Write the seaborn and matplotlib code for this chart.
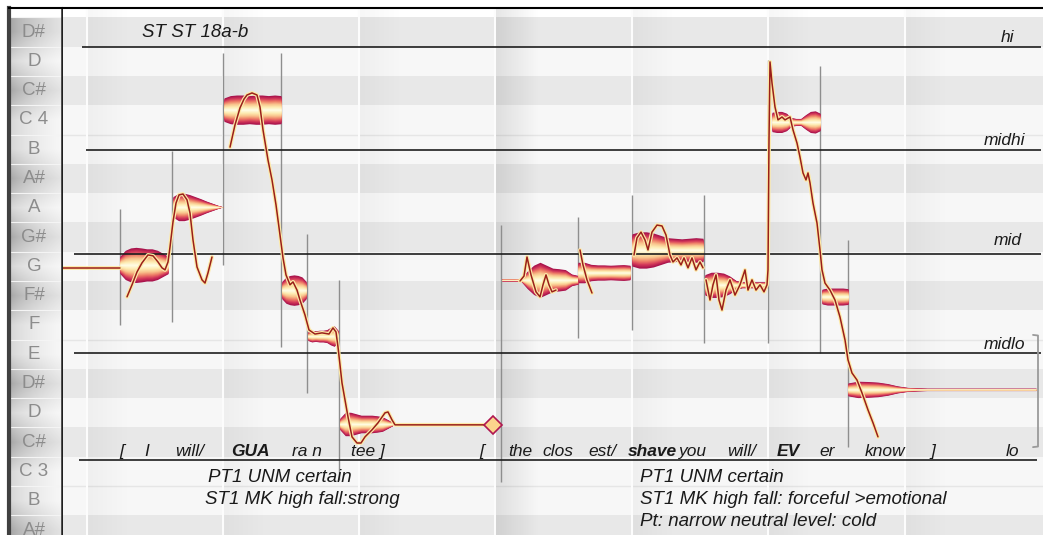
import numpy as np
import seaborn as sns
import matplotlib.pyplot as plt
from matplotlib.colors import LinearSegmentedColormap

# piano-roll rows (MIDI pitch) and key names
key_pitches = list(range(46, 64))
key_names = ['A#', 'B', 'C 3', 'C#', 'D', 'D#', 'E', 'F', 'F#', 'G',
             'G#', 'A', 'A#', 'B', 'C 4', 'C#', 'D', 'D#']
black_keys = {'A#', 'C#', 'D#', 'F#', 'G#'}

# time in centiseconds
bar_starts = [24, 160, 296, 432, 569, 705, 842]

# reference pitch levels
ref_names = ['hi', 'midhi', 'mid', 'midlo']
ref_levels = [62.49, 58.97, 55.42, 52.04]
ref_starts = [19, 23, 11, 11]
ref_label_t = [951, 962, 959, 962]
ref_label_p = [62.83, 59.31, 55.90, 52.35]
base_level = 48.39

# notes (blobs)
note_start = [57, 110, 161, 219, 245, 277, 439, 515, 569, 642, 709, 759, 785]
note_end = [105, 160, 218, 243, 275, 330, 515, 567, 640, 704, 757, 785, 973]
note_pitch = [55.05, 57.03, 60.35, 54.19, 52.62, 49.62, 54.54, 54.79,
              55.56, 54.37, 59.93, 53.97, 50.80]
note_width = [
    [0.3, 0.5, 0.58, 0.6, 0.58, 0.55, 0.55, 0.5, 0.4, 0.3],
    [0.35, 0.47, 0.47, 0.42, 0.35, 0.28, 0.2, 0.13, 0.06, 0.0],
    [0.4, 0.48, 0.5, 0.5, 0.48, 0.5, 0.5, 0.48, 0.5, 0.48],
    [0.3, 0.45, 0.5, 0.52, 0.5, 0.45, 0.3],
    [0.15, 0.2, 0.18, 0.2, 0.2, 0.22, 0.3, 0.35, 0.2],
    [0.2, 0.4, 0.4, 0.35, 0.3, 0.3, 0.3, 0.28, 0.25, 0.15, 0.05],
    [0.04, 0.04, 0.04, 0.05, 0.3, 0.5, 0.6, 0.5, 0.4, 0.38, 0.35, 0.2, 0.15],
    [0.35, 0.35, 0.28, 0.26, 0.26, 0.25, 0.26, 0.27, 0.25],
    [0.55, 0.62, 0.62, 0.58, 0.5, 0.42, 0.4, 0.38, 0.4, 0.42, 0.4],
    [0.35, 0.43, 0.43, 0.4, 0.3, 0.15, 0.1, 0.1, 0.1, 0.1, 0.1],
    [0.33, 0.36, 0.36, 0.3, 0.15, 0.12, 0.12, 0.25, 0.36, 0.38, 0.3],
    [0.25, 0.29, 0.29, 0.29, 0.29, 0.27],
    [0.22, 0.28, 0.27, 0.25, 0.2, 0.12, 0.07, 0.05, 0.04, 0.04, 0.04, 0.04,
     0.04, 0.04, 0.04, 0.04, 0.04, 0.04, 0.04, 0.04],
]

# pitch curves
lead_t = [0, 57]
lead_p = [54.95, 54.95]
curveA_t = [64, 69, 74, 79, 85, 90, 95, 99, 102, 105, 107, 110, 113, 116, 120,
            124, 127, 130, 134, 139, 142, 145, 149]
curveA_p = [53.96, 54.37, 54.81, 55.12, 55.39, 55.36, 55.15, 54.95, 54.88,
            55.15, 55.66, 56.52, 57.16, 57.44, 57.47, 57.27, 56.82, 55.90,
            54.98, 54.54, 54.43, 54.78, 55.32]
curveB_t = [167, 172, 177, 181, 184, 189, 194, 197, 200, 205, 209, 213, 217,
            220, 223, 227, 230, 234, 237, 242, 246, 252, 259, 266, 270, 273,
            275, 279, 285, 289, 294, 298, 302, 309, 315, 322, 325, 329, 332, 429]
curveB_p = [59.07, 59.83, 60.41, 60.71, 60.85, 60.92, 60.85, 60.44, 59.66,
            58.63, 57.95, 57.10, 56.07, 55.29, 54.71, 54.37, 54.47, 54.19,
            53.85, 53.34, 52.83, 52.69, 52.73, 52.69, 52.90, 52.76, 52.25,
            51.02, 49.86, 49.18, 48.97, 48.97, 49.18, 49.42, 49.66, 50.00,
            50.03, 49.76, 49.59, 49.59]
curveC1_t = [457, 461, 464, 468, 473, 477, 480, 483, 486, 489, 493]
curveC1_p = [54.50, 54.67, 55.32, 54.71, 54.13, 53.96, 54.37, 54.71, 54.37,
             54.13, 54.19]
curveC2_t = [517, 520, 524, 529]
curveC2_p = [55.56, 55.05, 54.54, 54.09]
curveC3_t = [571, 574, 578, 582, 585, 589, 594, 599, 603, 607, 610, 614, 618,
             621, 625, 629, 633, 637, 640]
curveC3_p = [55.39, 55.97, 56.17, 55.90, 55.56, 56.17, 56.41, 56.38, 56.07,
             55.39, 55.15, 55.29, 55.05, 55.29, 54.95, 55.29, 54.88, 55.15,
             54.95]
curveC4_t = [643, 647, 650, 653, 656, 659, 663, 667, 672, 677, 682, 685, 689,
             693, 697, 701, 704, 705, 706, 707, 709, 712, 715, 719, 722, 727,
             730, 734, 737, 740, 743, 745, 747, 750, 754, 757, 759, 762, 767,
             772, 777, 782, 785, 789, 794, 799, 805, 810, 815]
curveC4_p = [54.54, 53.85, 54.37, 54.71, 53.85, 53.51, 54.19, 54.54, 54.02,
             54.37, 54.88, 54.19, 54.54, 54.19, 54.37, 54.13, 54.37, 54.88,
             59.31, 61.98, 61.26, 60.44, 60.00, 60.10, 60.00, 60.10, 59.66,
             59.21, 58.73, 58.19, 57.95, 58.19, 57.85, 57.16, 56.48, 55.56,
             54.88, 54.43, 54.19, 53.85, 53.27, 52.49, 51.81, 51.36, 51.12,
             50.68, 50.10, 49.66, 49.18]
curves = [(lead_t, lead_p), (curveA_t, curveA_p), (curveB_t, curveB_p),
          (curveC1_t, curveC1_p), (curveC2_t, curveC2_p),
          (curveC3_t, curveC3_p), (curveC4_t, curveC4_p)]
end_marker_t, end_marker_p = 430, 49.59

# note separators
sep_t = [57, 109, 160, 218, 244, 276, 438, 515, 569, 641, 705, 757, 785]
sep_top = [56.96, 58.94, 62.28, 62.28, 56.11, 54.54, 56.41, 56.69, 57.44,
           57.44, 62.04, 61.84, 55.90]
sep_bot = [53.00, 53.10, 55.05, 52.25, 50.68, 47.71, 47.64, 52.56, 52.83,
           52.39, 52.39, 52.04, 48.83]

# text
title = 'ST ST 18a-b'
word_text = ['[', 'I', 'will/', 'GUA', 'ra n', 'tee ]', '[', 'the', 'clos',
             'est/', 'shave', 'you', 'will/', 'EV', 'er', 'know', ']', 'lo']
word_t = [59, 84, 127, 187, 244, 305, 419, 457, 495, 539, 589, 630, 679, 725,
          764, 822, 870, 949]
word_bold = [0, 0, 0, 1, 0, 0, 0, 0, 0, 0, 1, 0, 0, 1, 0, 0, 0, 0]
word_p = 48.67
left_notes = ['PT1 UNM certain', 'ST1 MK high fall:strong']
left_notes_t = [217, 239]
right_notes = ['PT1 UNM certain', 'ST1 MK high fall: forceful >emotional',
               'Pt: narrow neutral level: cold']
note_lines_p = [47.78, 47.03, 46.28]

sns.set_theme(style='white')
plt.rcParams['font.family'] = ['Liberation Sans', 'DejaVu Sans']

W, H = 1043, 535
fig = plt.figure(figsize=(W / 100, H / 100), dpi=100)
fig.patch.set_facecolor('white')
ylim = (45.83, 63.82)

# ---- key strip ----
axk = fig.add_axes([9 / W, 0, 53 / W, 527 / H])
grad = np.linspace(0, 1, 60) ** 0.6
img = np.zeros((len(key_pitches), 60, 3))
for i, name in enumerate(key_names):
    if name in black_keys:
        g = 0.62 + 0.27 * grad
    else:
        g = 0.82 + 0.15 * grad
    img[i] = g[:, None]
axk.imshow(img, extent=(0, 1, 45.5, 63.5), origin='lower', aspect='auto',
           interpolation='bilinear')
for p in key_pitches:
    axk.axhline(p + 0.5, color='#f4f4f4', lw=0.8)
for p, name in zip(key_pitches, key_names):
    axk.text(0.47, p, name, ha='center', va='center', fontsize=13.5,
             color='#8c8c8c')
axk.set_xlim(0, 1)
axk.set_ylim(*ylim)
axk.set_xticks([])
axk.set_yticks([])
axk.spines['bottom'].set_visible(False)
axk.spines['left'].set_color('#404040')
axk.spines['left'].set_linewidth(3)
axk.spines['top'].set_color('black')
axk.spines['top'].set_linewidth(1.5)
axk.spines['right'].set_color('#202020')
axk.spines['right'].set_linewidth(1.8)

# ---- main roll ----
ax = fig.add_axes([63 / W, 0, 980 / W, 527 / H])
ax.set_xlim(0, 980)
ax.set_ylim(*ylim)
for p, name in zip(key_pitches, key_names):
    c = '#e8e8e8' if name in black_keys else '#f7f7f7'
    ax.axhspan(p - 0.5, p + 0.5, color=c, lw=0, zorder=0)
for p in [52.5, 59.5, 47.5]:
    ax.axhline(p, color='#e6e6e6', lw=1, zorder=0.2)

# bar-start shading and bar lines
fade = np.linspace(1, 0, 50)
for b in bar_starts:
    strength = 0.10 if b == 432 else 0.035
    rgba = np.zeros((1, 50, 4))
    rgba[..., 3] = strength * fade
    ax.imshow(rgba, extent=(b + 1, b + 45, ylim[0], ylim[1]), aspect='auto',
              zorder=0.3, interpolation='bilinear')
    ax.axvline(b, color='#fcfcfc', lw=1.5, zorder=0.4)
ax.set_xlim(0, 980)
ax.set_ylim(*ylim)

# separators
ax.vlines(sep_t, sep_bot, sep_top, color='#8e8e8e', lw=1, zorder=1)

# note blobs: layered fills from crimson rim to pale yellow core
blob_cmap = LinearSegmentedColormap.from_list(
    'blob', ['#a8124c', '#d43a5a', '#ee7f68', '#f9c38c', '#fdeab0', '#fffbe0'])
n_layers = 16
fracs = np.linspace(1.0, 0.06, n_layers)
for s, e, p, w in zip(note_start, note_end, note_pitch, note_width):
    t = np.linspace(s, e, len(w))
    w = np.array(w)
    for k, f in enumerate(fracs):
        c = blob_cmap(k / (n_layers - 1))
        ax.fill_between(t, p - w * f, p + w * f, color=c, lw=0, zorder=2)

# reference lines
for lvl, st in zip(ref_levels, ref_starts):
    ax.hlines(lvl, st, 978, color='#1e1e1e', lw=1.2, zorder=3)
ax.hlines(base_level, 16, 974, color='#1e1e1e', lw=1.2, zorder=3)
for name, tt, pp in zip(ref_names, ref_label_t, ref_label_p):
    ax.text(tt, pp, name, ha='right', va='center', fontsize=12.5,
            style='italic', color='#1a1a1a', zorder=5)

# pitch curves
for ct, cp in curves:
    sns.lineplot(x=ct, y=cp, sort=False, estimator=None, color='#fdeaa8',
                 lw=2.8, ax=ax, zorder=4)
    sns.lineplot(x=ct, y=cp, sort=False, estimator=None, color='#9a1f1a',
                 lw=1.1, ax=ax, zorder=4.1)
ax.plot(end_marker_t, end_marker_p, marker='D', ms=9, mfc='#fbd48c',
        mec='#b01650', mew=1.2, zorder=4.2)

# bracket at right
ax.plot([970, 975, 975, 970], [52.66, 52.64, 48.85, 48.83], color='#9a9a9a',
        lw=1.3, zorder=3)

# texts
ax.text(79, 63.0, title, ha='left', va='center', fontsize=13.5,
        style='italic', color='#1a1a1a', zorder=5)
for s, tt, b in zip(word_text, word_t, word_bold):
    ax.text(tt, word_p, s, ha='center', va='center', fontsize=12.5,
            style='italic', weight='bold' if b else 'normal',
            color='#1a1a1a', zorder=5)
for s, tt, pp in zip(left_notes, left_notes_t, note_lines_p):
    ax.text(tt, pp, s, ha='center', va='center', fontsize=13.5,
            style='italic', color='#1a1a1a', zorder=5)
for s, pp in zip(right_notes, note_lines_p):
    ax.text(577, pp, s, ha='left', va='center', fontsize=13.5,
            style='italic', color='#1a1a1a', zorder=5)

ax.set_xticks([])
ax.set_yticks([])
ax.set_xlabel('')
ax.set_ylabel('')
for s in ['left', 'right', 'bottom']:
    ax.spines[s].set_visible(False)
ax.spines['top'].set_color('black')
ax.spines['top'].set_linewidth(1.5)

fig.savefig('out.png', dpi=100, facecolor='white')
